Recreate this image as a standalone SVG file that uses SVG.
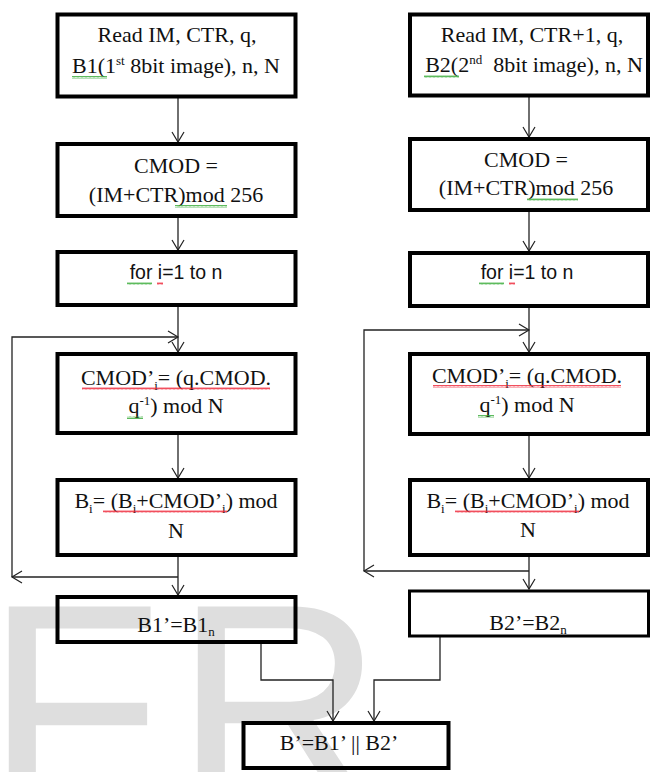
<svg xmlns="http://www.w3.org/2000/svg" width="652" height="772" viewBox="0 0 652 772">
<defs>
<marker id="ah" markerWidth="14" markerHeight="14" refX="11" refY="7" orient="auto" markerUnits="userSpaceOnUse">
<polyline points="1,1 11,7 1,13" fill="none" stroke="#222" stroke-width="1.2"/>
</marker>
<pattern id="wr" width="4" height="3" patternUnits="userSpaceOnUse"><path d="M0,2.5 L1,0.5 L2,2.5 L3,0.5 L4,2.5" fill="none" stroke="#e23" stroke-width="0.8"/></pattern>
<pattern id="wg" width="4" height="3" patternUnits="userSpaceOnUse"><path d="M0,2.5 L1,0.5 L2,2.5 L3,0.5 L4,2.5" fill="none" stroke="#3a3" stroke-width="0.8"/></pattern>
</defs>
<style>
.box{fill:none;stroke:#000;stroke-width:4}
.thin{stroke-width:3}
.t{font-family:"Liberation Serif","Times New Roman",serif;font-size:22px;fill:#111;text-anchor:middle}
.s{font-family:"Liberation Sans",Arial,sans-serif;font-size:19.5px;fill:#111;text-anchor:middle}
.sm{font-size:13px}
.c{fill:none;stroke:#222;stroke-width:1.3}
.wm{font-family:"Liberation Sans",Arial,sans-serif;font-size:290px;fill:#dedede}
</style>
<rect width="652" height="772" fill="#fff"/>
<g id="watermark"><text class="wm" y="806"><tspan x="-15">F</tspan><tspan x="174">R</tspan></text></g>

<g id="connectors">
<line class="c" x1="178" y1="97" x2="178" y2="142" marker-end="url(#ah)"/>
<line class="c" x1="178" y1="217" x2="178" y2="250" marker-end="url(#ah)"/>
<line class="c" x1="178" y1="306" x2="178" y2="352" marker-end="url(#ah)"/>
<polyline class="c" points="178,577 12,577" marker-end="url(#ah)"/>
<polyline class="c" points="12,577 12,337 178,337" marker-end="url(#ah)"/>
<line class="c" x1="178" y1="434" x2="178" y2="478" marker-end="url(#ah)"/>
<line class="c" x1="178" y1="556" x2="178" y2="595" marker-end="url(#ah)"/>
<line class="c" x1="529" y1="96" x2="529" y2="137" marker-end="url(#ah)"/>
<line class="c" x1="529" y1="211" x2="529" y2="251" marker-end="url(#ah)"/>
<line class="c" x1="529" y1="307" x2="529" y2="352" marker-end="url(#ah)"/>
<polyline class="c" points="529,571 364,571" marker-end="url(#ah)"/>
<polyline class="c" points="364,571 364,330 529,330" marker-end="url(#ah)"/>
<line class="c" x1="529" y1="435" x2="529" y2="478" marker-end="url(#ah)"/>
<line class="c" x1="529" y1="556" x2="529" y2="589" marker-end="url(#ah)"/>
<polyline class="c" points="261,643 261,680 333,680 333,721" marker-end="url(#ah)"/>
<polyline class="c" points="440,637 440,680 374,680 374,721" marker-end="url(#ah)"/>
</g>

<g id="l1"><rect class="box" x="57.5" y="14.5" width="238" height="82"/>
<text class="t" x="177" y="42">Read IM, CTR, q,</text>
<text class="t" x="176" y="73">B1(1<tspan class="sm" dy="-8">st</tspan><tspan dy="8"> 8bit image), n, N</tspan></text>
<rect x="72" y="76" width="35" height="3" fill="url(#wg)"/></g>

<g id="l2"><rect class="box" x="57.5" y="144" width="238" height="72"/>
<text class="t" x="176" y="173">CMOD =</text>
<text class="t" x="176" y="202">(IM+CTR)mod 256</text>
<rect x="175" y="205" width="52" height="3" fill="url(#wg)"/></g>

<g id="l3"><rect class="box" x="57.5" y="252" width="238" height="53"/>
<text class="s" x="176" y="279">for i=1 to n</text>
<rect x="127" y="282" width="25" height="3" fill="url(#wg)"/>
<rect x="157" y="282" width="6" height="3" fill="url(#wr)"/></g>

<g id="l4"><rect class="box" x="57.5" y="354" width="238" height="79"/>
<text class="t" x="176" y="385">CMOD’<tspan class="sm" dy="5">i</tspan><tspan dy="-5">= (q.CMOD.</tspan></text>
<text class="t" x="176" y="413">q<tspan class="sm" dy="-8">-1</tspan><tspan dy="8">) mod N</tspan></text>
<rect x="82" y="387" width="188" height="3" fill="url(#wr)"/>
<rect x="127" y="416" width="16" height="3" fill="url(#wg)"/></g>

<g id="l5"><rect class="box" x="57.5" y="480" width="238" height="75"/>
<text class="t" x="176" y="508">B<tspan class="sm" dy="5">i</tspan><tspan dy="-5">= (B</tspan><tspan class="sm" dy="5">i</tspan><tspan dy="-5">+CMOD’</tspan><tspan class="sm" dy="5">i</tspan><tspan dy="-5">) mod</tspan></text>
<text class="t" x="176" y="538">N</text>
<rect x="103" y="510" width="124" height="3" fill="url(#wr)"/></g>

<g id="l6"><rect class="box" x="57.5" y="597" width="238" height="45"/>
<text class="t" x="176" y="632">B1’=B1<tspan class="sm" dy="4">n</tspan></text></g>

<g id="r1"><rect class="box" x="410" y="14.5" width="238" height="81"/>
<text class="t" x="532" y="42">Read IM, CTR+1, q,</text>
<text class="t" x="534" y="72">B2(2<tspan class="sm" dy="-8">nd</tspan><tspan dy="8">&#160; 8bit image), n, N</tspan></text>
<rect x="424" y="75" width="35" height="3" fill="url(#wg)"/></g>

<g id="r2"><rect class="box" x="410" y="139" width="238" height="71"/>
<text class="t" x="526" y="167">CMOD =</text>
<text class="t" x="526" y="195">(IM+CTR)mod 256</text>
<rect x="527" y="198" width="51" height="3" fill="url(#wg)"/></g>

<g id="r3"><rect class="box" x="410" y="253" width="238" height="53"/>
<text class="s" x="527" y="279">for i=1 to n</text>
<rect x="479" y="282" width="25" height="3" fill="url(#wg)"/>
<rect x="509" y="282" width="6" height="3" fill="url(#wr)"/></g>

<g id="r4"><rect class="box" x="410" y="354" width="238" height="80"/>
<text class="t" x="527" y="383">CMOD’<tspan class="sm" dy="5">i</tspan><tspan dy="-5">= (q.CMOD.</tspan></text>
<text class="t" x="527" y="412">q<tspan class="sm" dy="-8">-1</tspan><tspan dy="8">) mod N</tspan></text>
<rect x="433" y="385" width="188" height="3" fill="url(#wr)"/>
<rect x="478" y="415" width="16" height="3" fill="url(#wg)"/></g>

<g id="r5"><rect class="box" x="410" y="480" width="238" height="75"/>
<text class="t" x="528" y="508">B<tspan class="sm" dy="5">i</tspan><tspan dy="-5">= (B</tspan><tspan class="sm" dy="5">i</tspan><tspan dy="-5">+CMOD’</tspan><tspan class="sm" dy="5">i</tspan><tspan dy="-5">) mod</tspan></text>
<text class="t" x="528" y="537">N</text>
<rect x="455" y="510" width="124" height="3" fill="url(#wr)"/></g>

<g id="r6"><rect class="box thin" x="409.5" y="591" width="239" height="45"/>
<text class="t" x="528" y="630">B2’=B2<tspan class="sm" dy="4">n</tspan></text></g>

<g id="final"><rect class="box" x="243.5" y="723" width="205" height="45"/>
<text class="t" x="339" y="750">B’=B1’ || B2’</text></g>
</svg>
